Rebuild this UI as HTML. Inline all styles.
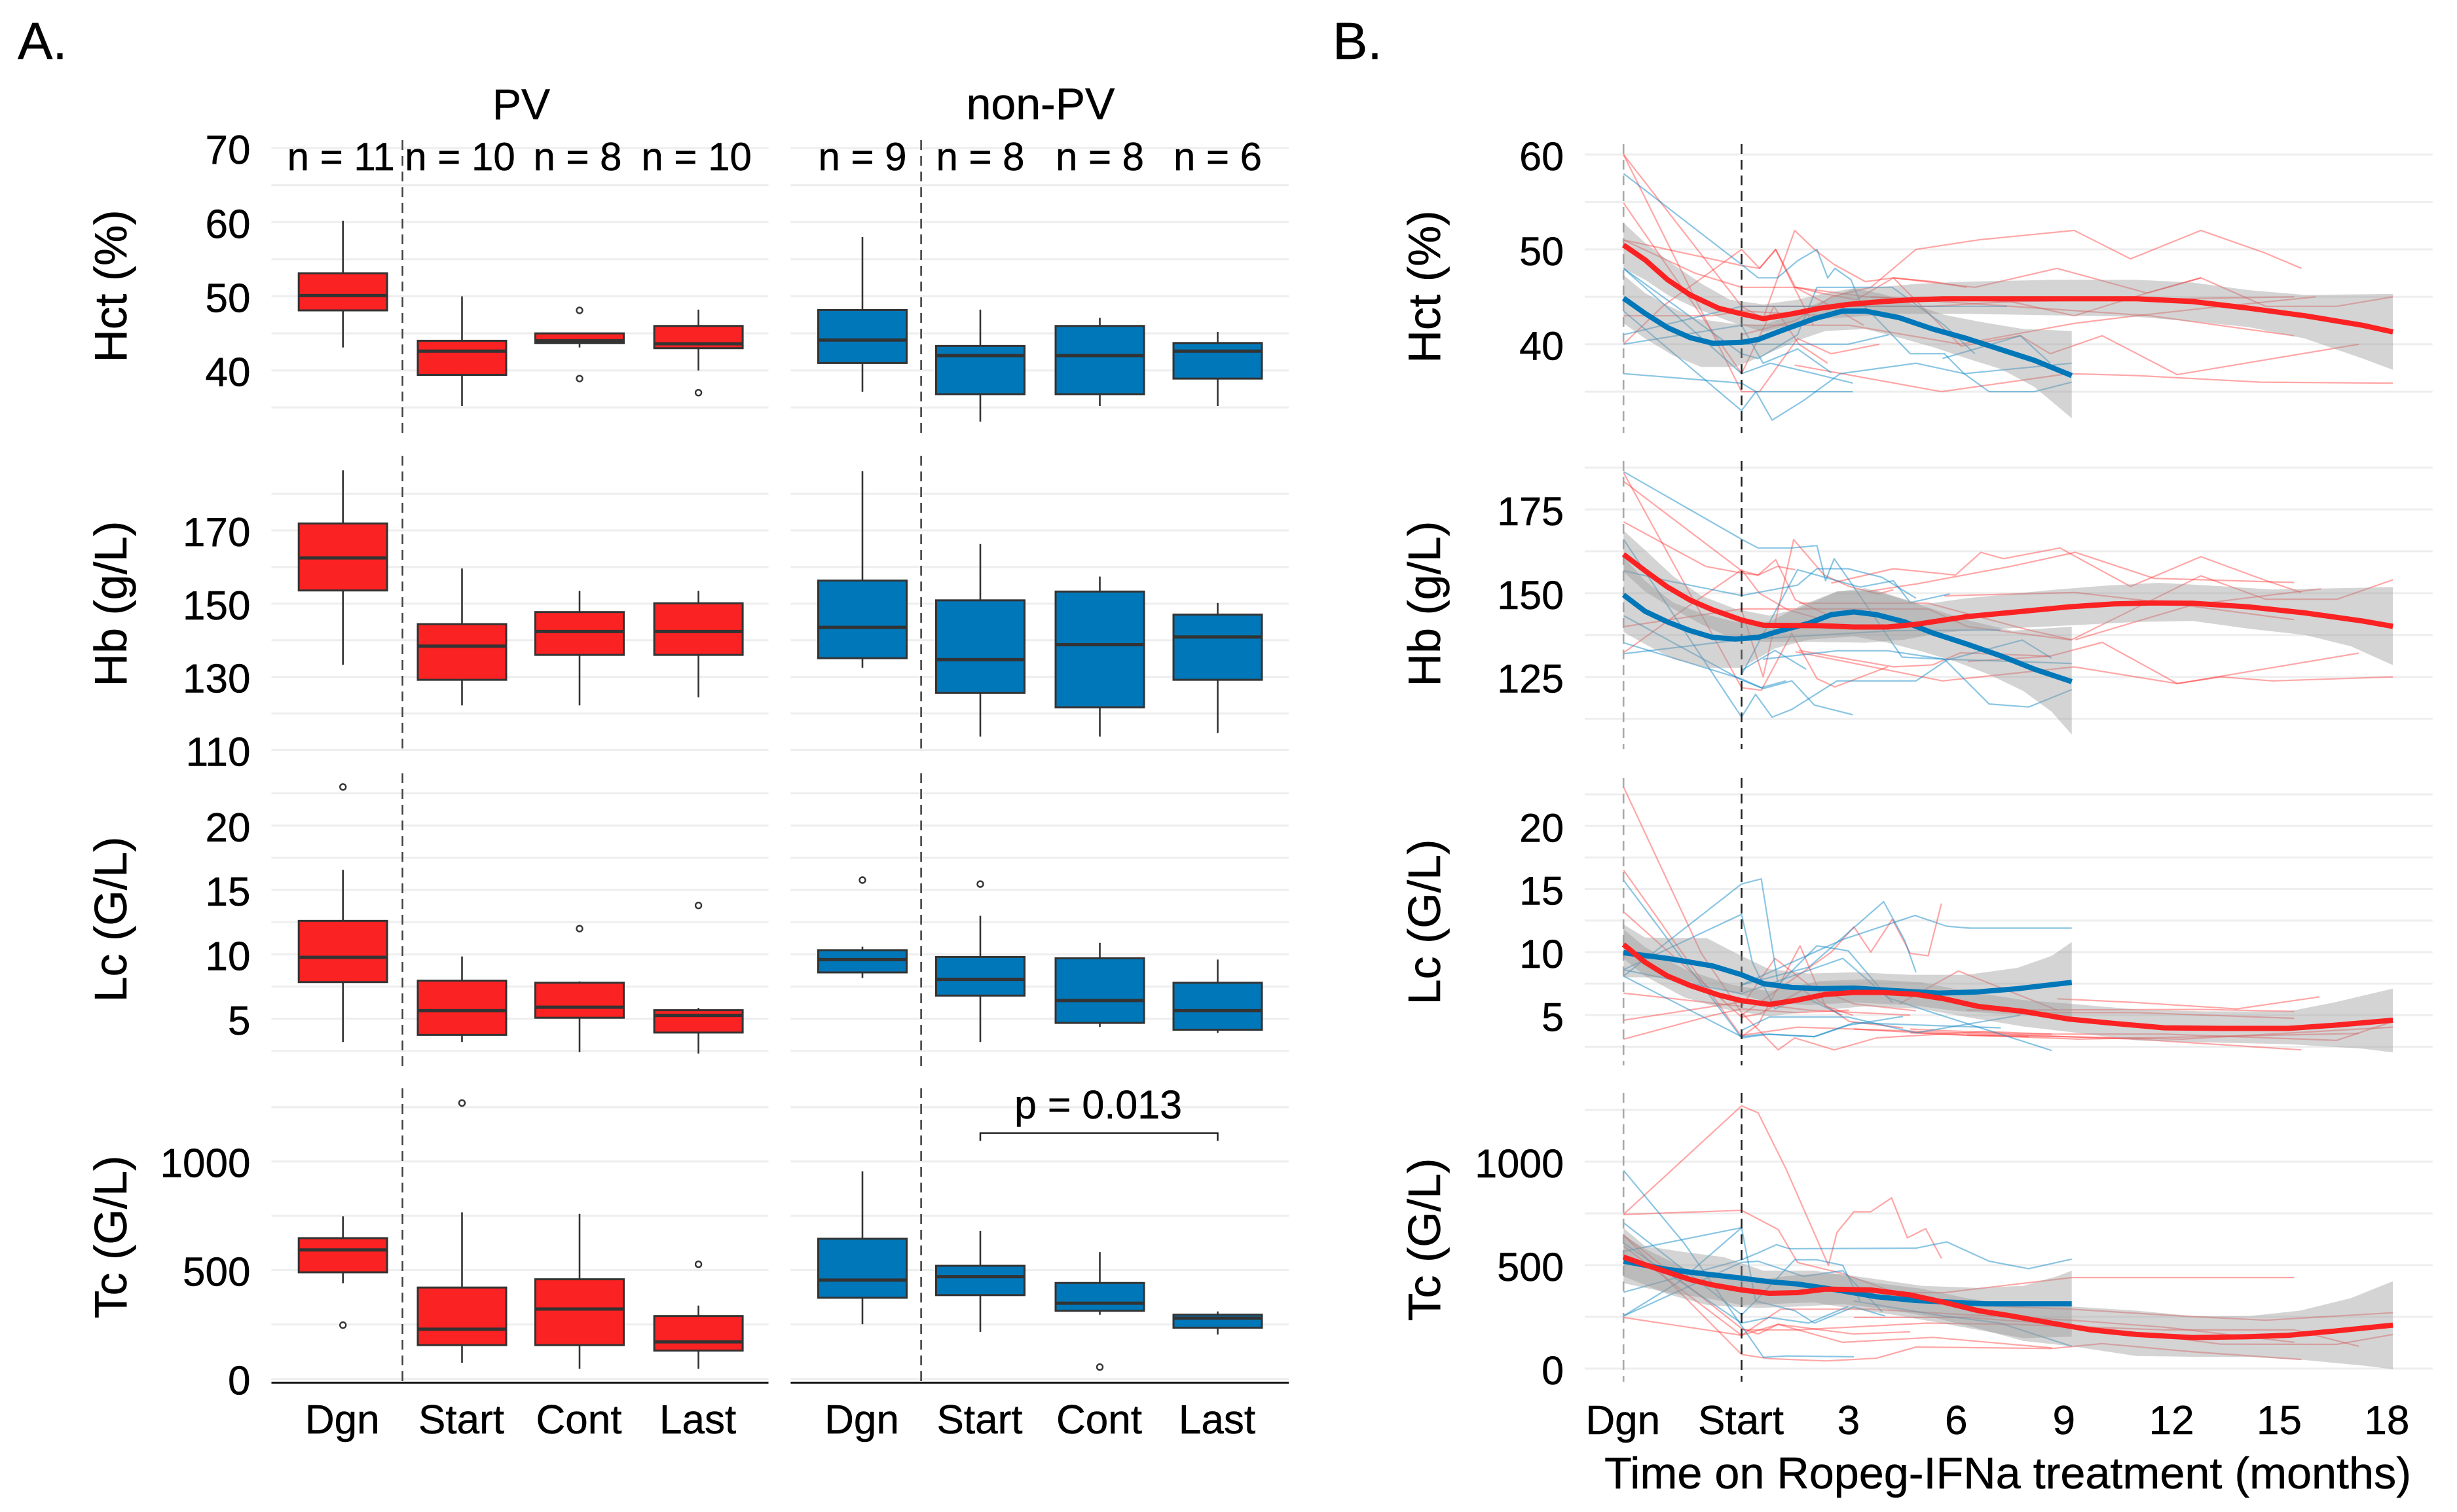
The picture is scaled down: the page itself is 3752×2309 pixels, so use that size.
<!DOCTYPE html>
<html lang="en">
<head>
<meta charset="utf-8">
<title>Hematologic parameters on Ropeg-IFNa treatment</title>
<style>
html,body{margin:0;padding:0;background:#fff;}
svg{display:block;}
text{font-family:"Liberation Sans",sans-serif;fill:#000;stroke:#000;stroke-width:.5px;}
</style>
</head>
<body>
<svg id="chart" xmlns="http://www.w3.org/2000/svg" width="3752" height="2309" viewBox="0 0 3752 2309">
  <rect x="0" y="0" width="3752" height="2309" fill="#fff"/>
  <g id="layer-a"></g>
  <g id="layer-b"></g>
  <text x="27" y="90" font-size="80">A.</text>
  <text x="2035" y="90" font-size="80">B.</text>
  <text x="796" y="182" font-size="66" text-anchor="middle">PV</text>
  <text x="1589" y="182" font-size="68" text-anchor="middle">non-PV</text>
  <text transform="translate(193,437) rotate(-90)" font-size="70" text-anchor="middle">Hct (%)</text>
  <text transform="translate(193,922) rotate(-90)" font-size="70" text-anchor="middle">Hb (g/L)</text>
  <text transform="translate(193,1404) rotate(-90)" font-size="70" text-anchor="middle">Lc (G/L)</text>
  <text transform="translate(193,1889) rotate(-90)" font-size="70" text-anchor="middle">Tc (G/L)</text>
  <text transform="translate(2199,438) rotate(-90)" font-size="70" text-anchor="middle">Hct (%)</text>
  <text transform="translate(2199,922) rotate(-90)" font-size="70" text-anchor="middle">Hb (g/L)</text>
  <text transform="translate(2199,1408) rotate(-90)" font-size="70" text-anchor="middle">Lc (G/L)</text>
  <text transform="translate(2199,1893) rotate(-90)" font-size="70" text-anchor="middle">Tc (G/L)</text>
  <text x="2450" y="2273" font-size="68" textLength="1232" lengthAdjust="spacingAndGlyphs">Time on Ropeg-IFNa treatment (months)</text>
  <text x="1677" y="1708" font-size="61" text-anchor="middle">p = 0.013</text>
  <path d="M1497 1742V1730.5H1859.5V1742" fill="none" stroke="#222" stroke-width="2.5"/>
</svg>
<script>
/* ---------- Panel A data: [low whisker, Q1, median, Q3, high whisker] ---------- */
const boxCategories = ['Dgn', 'Start', 'Cont', 'Last'];
const pvCounts = ['n = 11', 'n = 10', 'n = 8', 'n = 10'];
const nonPvCounts = ['n = 9', 'n = 8', 'n = 8', 'n = 6'];

const pvHctBoxes = [[43.1,48.1,50.1,53.1,60.2],[35.2,39.4,42.6,44,50],[43.1,43.7,44,45,45],[40,43,43.6,46,48.2]];
const pvHctOutliers = [[],[],[48.1,38.9],[37]];
const nonPvHctBoxes = [[37.1,41,44.1,48.15,58],[33.1,36.8,42,43.3,48.2],[35.2,36.8,42,46,47.1],[35.2,38.9,42.6,43.7,45.2]];
const nonPvHctOutliers = [[],[],[],[]];

const pvHbBoxes = [[133.3,153.6,162.5,171.9,186.4],[122.2,129.2,138.4,144.4,159.6],[122.2,136,142.4,147.7,153.5],[124.4,136,142.4,150.1,153.5]];
const pvHbOutliers = [[],[],[],[]];
const nonPvHbBoxes = [[132.5,135.1,143.5,156.3,186.2],[113.7,125.6,134.7,150.9,166.3],[113.7,121.7,138.8,153.3,157.4],[114.7,129.2,140.9,147,150.2]];
const nonPvHbOutliers = [[],[],[],[]];

const pvLcBoxes = [[3.2,7.85,9.77,12.6,16.56],[3.2,3.75,5.63,7.96,9.84],[2.4,5.08,5.9,7.8,7.9],[2.3,3.93,5.26,5.67,5.85]];
const pvLcOutliers = [[23],[],[12],[13.8]];
const nonPvLcBoxes = [[8.17,8.6,9.6,10.33,10.6],[3.2,6.8,8.06,9.8,13],[4.36,4.68,6.42,9.7,10.9],[3.9,4.15,5.63,7.8,9.6]];
const nonPvLcOutliers = [[15.77],[15.46],[],[]];

const pvTcBoxes = [[440,490,593,647,748],[74,155,228,420,766],[46,155,321,458,759],[46,130,170,289,337]];
const pvTcOutliers = [[247],[1269],[],[527]];
const nonPvTcBoxes = [[251,373,454,645,955],[216,385,470,520,680],[295,313,348,441,583],[204,235,279,295,310]];
const nonPvTcOutliers = [[],[],[54],[]];

/* ---------- Axis ticks ---------- */
const hctTicksA = [70,60,50,40];
const hbTicksA = [170,150,130,110];
const lcTicksA = [20,15,10,5];
const tcTicksA = [1000,500,0];
const hctGridA = [35,40,45,50,55,60,65,70];
const hbGridA = [110,120,130,140,150,160,170,180];
const lcGridA = [2.5,5,7.5,10,12.5,15,17.5,20,22.5];
const tcGridA = [0,250,500,750,1000,1250];

const hctTicksB = [60,50,40];
const hbTicksB = [175,150,125];
const lcTicksB = [20,15,10,5];
const tcTicksB = [1000,500,0];
const hctGridB = [35,40,45,50,55,60];
const hbGridB = [112.5,125,137.5,150,162.5,175,187.5];
const lcGridB = [2.5,5,7.5,10,12.5,15,17.5,20,22.5];
const tcGridB = [0,250,500,750,1000,1250];

/* ---------- Panel B: month of diagnosis on the time axis ---------- */
const D = -3.29;
const timeTickValues = [D,0,3,6,9,12,15,18];
const timeTickLabels = ['Dgn','Start','3','6','9','12','15','18'];

/* ---------- Hct series: [month, value] ---------- */
const hctRedTrend = [[D,50.46],[-2.69,48.9],[-2.06,46.8],[-1.43,45.2],[-.64,43.8],[0,43.2],[.61,42.7],[1.4,43.2],[2.19,43.8],[2.97,44.2],[3.93,44.5],[4.86,44.7],[5.65,44.8],[7.53,44.8],[11,44.8],[12.57,44.5],[14.14,43.8],[15.7,43],[17.3,42],[18.15,41.3]];
const hctBlueTrend = [[D,44.86],[-2.69,43.25],[-2.06,41.75],[-1.43,40.7],[-.8,40.1],[0,40.2],[.46,40.5],[1.09,41.4],[2.03,42.7],[2.82,43.5],[3.45,43.5],[4.39,42.8],[5.33,41.6],[6.28,40.6],[7.22,39.45],[8.16,38.3],[9.2,36.7]];
const hctRedUpper = [[D,52.8],[-2.69,50.7],[-1.9,48.4],[-1.12,46.4],[-.33,44.7],[.61,44.2],[1.56,44.7],[2.34,45.4],[3.13,45.9],[4.07,46.1],[5.02,46.4],[6.28,46.6],[8.79,46.8],[11,46.8],[12.57,46.5],[14.14,45.7],[15.7,45.2],[18.15,45.3]];
const hctRedLower = [[D,48],[-2.69,46.8],[-2.06,45.2],[-1.27,43.8],[-.33,42.4],[.61,41.3],[1.56,42.2],[2.34,42.7],[3.13,42.9],[4.39,43.2],[6.28,43.2],[9.42,43],[11,42.9],[12.57,42.4],[14.14,41.8],[15.7,40.6],[17.3,38.5],[18.15,37.3]];
const hctBlueUpper = [[D,47.3],[-2.69,45.4],[-2.06,44.1],[-1.27,42.7],[-.33,42.2],[.61,42],[1.56,43.4],[2.34,44.7],[3.13,45.9],[3.92,45.3],[4.7,44.3],[5.65,43.1],[6.59,42.4],[7.85,41.6],[9.2,41.4]];
const hctBlueLower = [[D,42.2],[-2.69,40.6],[-1.9,38.8],[-1.12,37.6],[-.17,37.6],[.61,38.8],[1.56,40.4],[2.34,41.4],[3.45,41.6],[4.39,40.7],[5.33,39.7],[6.28,38.5],[7.22,37.4],[8.16,35.5],[9.2,32.2]];
const hctRedLines = [
 [[D,60],[0,35],[.5,35],[1.56,40.6],[2.5,39],[3.84,40]],
 [[D,60],[0,44],[.6,42.7],[1.48,52],[2.03,50],[2.58,48.4],[3.45,46.6],[4.23,47],[5.33,46.6],[6.28,46]],
 [[D,54.9],[0,36.9],[.9,44],[1.6,40],[2.4,38]],
 [[D,51],[0,48.3],[.5,48],[.95,50],[1.5,46],[2.5,44],[3.4,42]],
 [[D,51],[-1.3,47.5],[0,46],[1.56,46],[2.2,45.4],[3.2,44.7],[4.23,47]],
 [[D,43],[-.8,43],[0,43.5],[2.4,43]],
 [[D,40],[-2.2,44],[0,50],[.5,48],[.95,50],[1.4,46.5],[2,42]],
 [[0,41],[1.5,42.5],[2.5,45],[3.6,46],[4.86,50],[6.59,51],[9.27,52],[10.84,49],[12.8,52],[14.6,49.6],[15.6,48]],
 [[4.23,47],[6.5,46],[8.79,48],[11.3,45.4],[12.8,47],[14.6,44],[16.58,44],[18.15,45]],
 [[1.48,37.8],[5.57,35],[9.1,36.9],[11,36.7],[14.46,36],[18.15,35.9]],
 [[4.23,47],[6.12,39.8],[7.77,40.9],[8.6,39],[10.05,40.9],[12.14,36.8],[17.2,40]],
 [[0,44],[5.33,44],[7.5,44.5],[9.27,43],[11.3,45.4],[12.8,47]],
 [[0,42],[3,42],[6.1,40],[9.27,42.2],[11,43],[12.9,43.8],[16,45]],
 [[3.6,45],[11.4,43],[15.4,40.9]],
 [[1.5,46],[3.5,45],[7.5,44.5],[15.4,45]]
];
const hctBlueLines = [
 [[D,58],[0,48.4],[.46,47],[1,47],[1.56,48.8],[2.1,50],[2.4,47],[2.6,48],[3.05,46.8],[3.3,44.5],[4.7,39],[5.65,39],[6.2,36.9],[6.9,35],[8.16,35],[9.2,36]],
 [[D,48],[0,36.9],[.8,38],[2.03,36.9],[3.1,35.9]],
 [[D,36.9],[0,35.9],[.4,35],[.85,32],[1.7,34],[2.75,36.9],[4.86,38],[6.2,36.9],[9.2,38]],
 [[D,41],[0,44],[5.33,44],[7.4,44]],
 [[D,40],[0,42],[.6,38],[1.56,39.5],[2.5,37]],
 [[D,43.5],[0,33],[.4,35],[3.1,35]],
 [[D,48],[0,39],[.46,38.5],[1.56,41],[2.1,46],[3.1,46],[4.2,46],[5.65,42],[6.5,39]],
 [[0,40],[.8,40],[2.97,40],[4.1,41]],
 [[5.6,38.5],[7.77,40.9],[8.6,38]]
];

/* ---------- Hb series ---------- */
const hbRedTrend = [[D,161.6],[-2.69,156.7],[-2.06,151.8],[-1.43,147.9],[-.8,145],[0,142],[.61,140.4],[2.19,140.3],[3.13,139.9],[4.07,139.9],[4.86,140.7],[6.28,143],[7.85,144.6],[9.1,145.9],[10.37,146.8],[11.47,147.1],[12.57,147],[14.14,145.9],[15.7,144.1],[17.3,141.7],[18.15,140.1]];
const hbBlueTrend = [[D,149.5],[-2.69,144.6],[-2.06,141.4],[-1.43,138.8],[-.8,136.8],[-.17,136.3],[.46,136.8],[1.09,138.8],[1.87,141],[2.5,143.6],[3.13,144.4],[3.76,143.6],[4.55,141.4],[5.33,138.1],[6.28,134.8],[7.22,131.3],[8.16,127.3],[9.2,123.6]];
const hbRedUpper = [[D,168.7],[-2.69,162.9],[-1.9,155],[-1.12,149.2],[-.17,145.3],[.77,143.3],[1.56,145.3],[2.66,150.5],[3.76,150.8],[5.02,146.6],[6.28,148.5],[7.53,149.8],[8.79,151.1],[10.21,152.3],[11.62,153.1],[12.88,152.4],[14.77,151.1],[18.15,151.8]];
const hbRedLower = [[D,156.4],[-2.69,150.5],[-1.9,145.3],[-1.12,140.7],[-.33,136.8],[.61,135.5],[1.87,135.5],[3.45,135.2],[4.55,136.1],[5.49,138.1],[6.59,139.1],[7.85,139.7],[9.2,140.4],[11,141.4],[12.57,141.7],[14.14,139.4],[15.7,137.5],[16.97,134.2],[18.15,128.5]];
const hbBlueUpper = [[D,160.9],[-2.69,153.7],[-1.9,147.2],[-1.12,144],[-.17,141.4],[.77,141.4],[1.71,146.6],[2.66,150.5],[3.45,151.5],[4.39,148.5],[5.33,145.3],[6.28,142],[7.53,138.8],[9.2,140]];
const hbBlueLower = [[D,138.4],[-2.69,134.8],[-1.9,130.3],[-.96,127.7],[0,127.7],[.93,133.5],[1.87,136.1],[3.13,137.1],[4.07,135.2],[5.02,132.6],[5.96,129.6],[6.9,125.7],[7.85,120.8],[8.64,114.6],[9.2,107.8]];
const hbRedLines = [
 [[D,186],[0,121.8],[.55,121],[1.4,138],[2.1,124.5],[2.6,122],[4.07,128]],
 [[D,183.4],[0,156.7],[.46,155.4],[.95,160],[1.5,148],[2.5,143]],
 [[D,171.3],[-1,158],[0,156],[.46,155.4],[1,158],[1.5,157]],
 [[0,145],[.6,125],[1.45,166],[2.3,155.4],[3,152],[3.8,149.8],[4.23,151]],
 [[D,140],[0,145.3],[5.2,145.3],[6.3,140],[9.2,136]],
 [[D,132.2],[-1.5,146],[0,157],[.5,150],[1.3,145],[2.3,142]],
 [[2.5,153],[4.23,157.3],[5.96,155.4],[6.67,162.2],[7.3,160.3],[8.87,163.5],[10.84,152],[12.8,160.9],[14.6,153.8],[15.6,150.2]],
 [[3.5,150.5],[4.9,152.8],[7.5,158],[9.3,162.2],[11.5,154.4],[15.4,153.2]],
 [[5.65,149.2],[9.3,150.2],[12.2,146.6],[15.4,142.1]],
 [[1.6,147],[5.2,147],[8,139],[9.2,136.1],[12.8,155.2],[14.6,148.2],[16.6,148.2],[18.15,154]],
 [[1.5,132.5],[5.6,123.8],[9.27,128],[12.14,123],[17.2,132.1]],
 [[6.3,129.6],[8.6,131.2],[10.05,135.3],[12.14,123],[13.35,125],[14.8,123.8],[18.15,125]],
 [[9.3,136.1],[12.6,146.6],[16.15,151.3]],
 [[1.6,132.9],[4.23,128],[5.33,128.6],[6.1,132.2],[8.6,131.2]]
];
const hbBlueLines = [
 [[D,186.3],[0,166.1],[.46,163.5],[1.4,163.5],[2.1,164.2],[2.34,153.7],[2.58,160.3],[3.13,151.8],[4.47,130.9],[5.65,130.3],[6.9,116.9],[8,116],[9.2,121.2]],
 [[D,166.1],[0,113],[.39,119.8],[.85,113],[1.4,115.3],[2.66,123.8],[4.86,123.8],[5.72,130],[7.82,136],[8.64,130.6]],
 [[D,156.7],[-2.06,153.7],[0,149.3],[1.56,152.4],[2.1,157.3],[2.97,157.3],[3.92,154.7],[4.86,148.5]],
 [[D,143.3],[0,124.1],[.6,121.5],[1.4,123.8],[2.03,116.6],[3.1,113.7]],
 [[D,135.2],[0,124.4],[.55,121.8],[1.24,123.8]],
 [[D,131.9],[0,136.1],[4.23,138.8],[7.22,139]],
 [[0,127],[.93,132.9],[1.8,127.3]],
 [[.6,130.3],[2.66,132.8],[4.07,132.8],[5.65,130.3],[9.2,129]],
 [[0,125.7],[1.56,157],[3.3,151.8],[4.23,153.7],[4.7,147.2],[5.8,149.8]]
];

/* ---------- Lc series ---------- */
const lcRedTrend = [[D,10.6],[-2.69,9.2],[-2.06,8.1],[-1.43,7.35],[-.64,6.6],[0,6.15],[.77,5.85],[1.56,6.2],[2.34,6.65],[3.13,6.8],[3.92,6.8],[4.86,6.65],[5.65,6.3],[6.59,5.7],[7.85,5.3],[9.1,4.7],[10.37,4.35],[11.78,4],[13.36,3.95],[15.24,3.95],[16.5,4.2],[18.15,4.6]];
const lcBlueTrend = [[D,9.95],[-2.06,9.5],[-.8,8.9],[0,8.2],[.61,7.5],[1.4,7.2],[2.19,7.1],[3.13,7.15],[4.23,6.95],[5.49,6.75],[6.59,6.85],[7.69,7.1],[9.2,7.6]];
const lcRedUpper = [[D,11.8],[-2.69,10.4],[-1.59,8.65],[-.33,7.45],[.77,6.9],[2.19,7.7],[3.45,7.85],[5.02,7.6],[6.28,6.9],[7.85,6.2],[9.2,5.9],[11,5.45],[12.88,5.3],[15.24,5.3],[16.5,6],[18.15,7.1]];
const lcRedLower = [[D,9.5],[-2.69,8.1],[-1.59,6.4],[-.49,5.5],[.77,4.9],[1.87,5.3],[3.45,5.7],[5.02,5.5],[6.28,4.85],[7.85,4.1],[9.2,3.65],[11,3],[12.88,2.85],[15.24,2.7],[17.29,2.35],[18.15,2.05]];
const lcBlueUpper = [[D,12.2],[-2.69,11.15],[-.96,11.1],[-.49,10.4],[0,9.7],[.77,8.65],[1.87,8.3],[3.13,8.4],[4.7,8.2],[6.28,8.2],[7.69,8.75],[8.64,9.7],[9.2,10.8]];
const lcBlueLower = [[D,8],[-2.06,8],[-.8,7.25],[0,6.6],[.77,6],[1.87,5.8],[3.13,6],[4.7,5.8],[5.96,5.35],[7.22,5.1],[8.32,4.95],[9.2,4.85]];
const lcRedLines = [
 [[D,23.1],[-1.12,9.9],[0,5.2],[1.02,2.25],[1.48,3.2],[2.58,2.25],[3.76,3.2],[6.75,3.7],[8.64,3.5]],
 [[D,16.5],[0,3.3],[.46,4.25],[1.63,10.5],[2.34,5.7],[3.1,5]],
 [[D,13.2],[0,4.85],[.5,5.1],[1.7,7],[3,4.5],[4.5,4]],
 [[D,6.75],[0,5.7],[.93,9.5],[1.87,7.4],[3.13,5.9],[4.86,5.35]],
 [[D,4.6],[0,6.05],[1.87,5.4],[4.7,5]],
 [[D,3.1],[-.8,5],[0,5.5],[1.5,5.2],[3,5.4]],
 [[0,5],[1.5,8],[2.5,10],[3.13,12],[3.6,10],[4.2,12.6],[4.7,9.9],[5.2,9.7],[5.57,13.85]],
 [[0,3.4],[1.56,4.05],[3.13,3.9],[6.28,3.4],[8,3.3]],
 [[4.4,5.9],[6.04,8.5],[8.8,5.4]],
 [[8.8,6.3],[11,6],[13.8,5.5],[16.1,6.45]],
 [[6.28,5.4],[12.88,5.45],[15.4,5.3]],
 [[7.85,5.2],[11,5.2],[15.4,4.75]],
 [[3.13,3.9],[11,3.1],[15.6,2.25]],
 [[4.7,3.9],[7.85,3.5],[11.8,3.5],[16.58,3],[18.15,4.5]],
 [[6.28,3.45],[12.26,3.1],[18.15,4.05]],
 [[4.7,3.6],[9.4,3.1],[17.2,3.55]]
];
const lcBlueLines = [
 [[D,15.7],[0,3.2],[.77,3.5],[2.03,3.3],[3.13,4.4],[7.22,4]],
 [[D,8.6],[0,13],[.3,9.2],[.93,5.5],[1.7,6.5],[2.8,5]],
 [[D,8.1],[0,15.4],[.55,15.8],[1.02,7.4],[2.1,10.5],[2.97,10.1],[3.6,8],[4.2,6]],
 [[0,7.4],[1.87,8.8],[3.96,14],[4.55,10.9],[4.86,8.4]],
 [[0,7.4],[2.82,11],[4.83,12.9],[5.72,12.05],[6.36,11.9],[9.2,11.9]],
 [[D,8.6],[0,6.7],[2.82,9.5],[4.07,6.4],[5,5.5],[8.64,2.2]],
 [[0,3.8],[.77,4.85],[2.97,4.85],[4.86,3.6],[7.77,5]],
 [[D,8.1],[0,3.3],[.6,3.5],[2.03,3.3],[2.97,4.2],[4.5,4.9]]
];

/* ---------- Tc series ---------- */
const tcRedTrend = [[D,539],[-2.69,502],[-2.06,466],[-1.43,430],[-.8,404],[0,380],[.77,364],[1.56,367],[2.34,384],[3.6,380],[4.7,356],[5.65,320],[6.59,280],[7.53,254],[8.63,220],[9.74,187],[11,165],[12.57,150],[14.14,154],[15.24,161],[16.5,181],[18.15,210]];
const tcBlueTrend = [[D,519],[-2.06,479],[-.8,453],[0,437],[.77,420],[1.56,409],[2.66,380],[3.76,347],[4.86,329],[5.96,320],[6.75,313],[9.2,313]];
const tcRedUpper = [[D,645],[-2.69,579],[-1.59,486],[-.49,433],[.61,433],[1.56,453],[2.66,459],[3.76,413],[5.02,386],[6.28,340],[7.85,300],[9.2,300],[11,280],[12.57,254],[14.14,254],[15.56,280],[16.97,340],[18.15,422]];
const tcRedLower = [[D,446],[-2.06,360],[-.96,307],[.46,293],[1.56,300],[2.82,311],[4.07,287],[5.33,247],[6.59,194],[7.85,134],[9.2,108],[11,61],[12.57,57],[14.14,57],[15.7,41],[17.29,15],[18.15,-3]];
const tcBlueUpper = [[D,679],[-2.69,592],[-1.59,563],[-.49,539],[.61,473],[2.03,473],[3.45,440],[5.02,400],[6.59,390],[7.85,400],[8.79,446],[9.2,473]];
const tcBlueLower = [[D,413],[-2.06,367],[-.96,340],[0,307],[.93,313],[2.03,320],[3.13,287],[4.23,260],[5.33,227],[6.59,187],[7.85,147],[9.2,154]];
const tcRedLines = [
 [[D,745],[0,1270],[.46,1236],[1.24,964],[2.42,499],[2.66,659],[3.13,758],[3.6,758],[4.18,825],[4.62,632],[5.13,676],[5.57,533]],
 [[D,745],[0,765],[1.02,672],[1.56,513],[2.82,459],[4.07,380]],
 [[D,247],[0,161],[1.02,214],[3.13,167],[4.7,178]],
 [[D,645],[0,68],[.77,48],[2.34,37],[3.76,50],[4.86,104],[8.64,97],[10.05,121],[12.57,81],[15.6,44]],
 [[D,645],[0,194],[.46,167],[1.02,214],[2.82,127],[5.33,151],[8.64,100]],
 [[D,592],[0,161],[1.09,287],[3.6,287],[6.28,260],[9.2,234],[11.8,200],[15.4,127]],
 [[0,187],[1.56,187],[5.18,220],[7.53,214],[11.78,187],[13.5,187],[15.4,187],[17.2,108]],
 [[3.13,247],[6.28,247],[9.42,207],[13.36,118],[16.58,117],[18.15,165]],
 [[3.13,367],[5.65,367],[9.2,440],[15.4,440]],
 [[5.49,313],[9.2,287],[12.25,254],[14.6,234],[18.15,270]]
];
const tcBlueLines = [
 [[D,958],[-1.6,606],[0,207],[.61,54],[1.24,61],[3.13,57]],
 [[D,705],[0,260],[.39,327],[1.48,280],[2.03,220],[3.13,298],[4,254]],
 [[D,369],[0,526],[.46,559],[.97,599],[1.33,579],[4.86,582],[5.72,612],[6.9,519],[8,483],[9.2,529]],
 [[D,254],[-1.74,420],[0,681],[.39,327],[1.48,526],[2.1,526],[2.82,499],[3.3,327]],
 [[D,566],[0,681]],
 [[D,254],[0,513],[.46,519],[1.72,446],[2.82,473],[3.92,274]],
 [[D,606],[0,220],[.77,247],[1.87,220],[2.97,300]],
 [[3.13,327],[5.4,260],[7.2,220],[9.2,108]]
];

/* ---------- Drawing ---------- */
const NS = 'http://www.w3.org/2000/svg';
const RED = '#fa2222';
const BLUE = '#0077b8';
const GRID = '#eeeeee';
const layerA = document.getElementById('layer-a');
const layerB = document.getElementById('layer-b');

function make(parent, tag, props, text) {
  const el = document.createElementNS(NS, tag);
  Object.keys(props).forEach(function (k) { el.setAttribute(k, props[k]); });
  if (text !== undefined) el.textContent = text;
  parent.appendChild(el);
  return el;
}
function linear(v0, y0, v1, y1) {
  return function (v) { return y0 + (v - v0) * (y1 - y0) / (v1 - v0); };
}

const pvBandCenters = [523.7, 705.5, 885, 1066.6];
const nonPvBandCenters = [1317, 1497, 1679.5, 1859.5];
const boxHalf = 67.5;

function drawBoxPanel(group, key, yScale, centers, boxes, outliers, gridVals, x0, x1, dashX, dashTop, dashBottom, fill) {
  gridVals.forEach(function (g) {
    const line = make(group, 'line', {x1: x0, x2: x1, y1: yScale(g), y2: yScale(g), stroke: GRID, 'stroke-width': 3});
    
    
  });
  boxes.forEach(function (b, i) {
    const cx = centers[i];
    const whisker = make(group, 'line', {x1: cx, x2: cx, y1: yScale(b[4]), y2: yScale(b[0]), stroke: '#333', 'stroke-width': 2.6});
    
    
    const rect = make(group, 'rect', {x: cx - boxHalf, width: boxHalf * 2, y: yScale(b[3]), height: yScale(b[1]) - yScale(b[3]), fill: fill, stroke: '#333', 'stroke-width': 3});
    
    
    const med = make(group, 'line', {x1: cx - boxHalf, x2: cx + boxHalf, y1: yScale(b[2]), y2: yScale(b[2]), stroke: '#333', 'stroke-width': 5});
    
    
    outliers[i].forEach(function (o) {
      const dot = make(group, 'circle', {cx: cx, cy: yScale(o), r: 4.5, fill: '#fff', stroke: '#333', 'stroke-width': 2.4});
      
      
    });
  });
  const dash = make(group, 'line', {x1: dashX, x2: dashX, y1: dashTop, y2: dashBottom, stroke: '#444', 'stroke-width': 2.6, 'stroke-dasharray': '15 9'});
  
  
}

function drawTicks(group, key, yScale, ticks, xRight, size) {
  ticks.forEach(function (t) {
    const label = make(group, 'text', {x: xRight, y: yScale(t) + 24, 'font-size': size, 'text-anchor': 'end'}, String(t));
    
    
  });
}

const rowsA = [
  {key: 'hct', y: linear(40, 565.7, 60, 339.3), grid: hctGridA, ticks: hctTicksA, pv: pvHctBoxes, pvO: pvHctOutliers, np: nonPvHctBoxes, npO: nonPvHctOutliers, top: 214, bottom: 664},
  {key: 'hb', y: linear(110, 1145.5, 170, 810), grid: hbGridA, ticks: hbTicksA, pv: pvHbBoxes, pvO: pvHbOutliers, np: nonPvHbBoxes, npO: nonPvHbOutliers, top: 696, bottom: 1146},
  {key: 'lc', y: linear(5, 1555.8, 20, 1260.8), grid: lcGridA, ticks: lcTicksA, pv: pvLcBoxes, pvO: pvLcOutliers, np: nonPvLcBoxes, npO: nonPvLcOutliers, top: 1181, bottom: 1628},
  {key: 'tc', y: linear(0, 2105.6, 1000, 1773.7), grid: tcGridA, ticks: tcTicksA, pv: pvTcBoxes, pvO: pvTcOutliers, np: nonPvTcBoxes, npO: nonPvTcOutliers, top: 1662, bottom: 2111.5}
];
rowsA.forEach(function (r) {
  drawBoxPanel(layerA, 'pv-' + r.key, r.y, pvBandCenters, r.pv, r.pvO, r.grid, 414.5, 1173.5, 614.6, r.top, r.bottom, RED);
  drawBoxPanel(layerA, 'non-pv-' + r.key, r.y, nonPvBandCenters, r.np, r.npO, r.grid, 1207.4, 1968, 1406.6, r.top, r.bottom, BLUE);
  drawTicks(layerA, 'a-' + r.key, r.y, r.ticks, 382.5, 62);
});

[[414.5, 1173.5, 'pv'], [1207.4, 1968, 'non-pv']].forEach(function (a) {
  const axis = make(layerA, 'line', {x1: a[0], x2: a[1], y1: 2111.5, y2: 2111.5, stroke: '#111', 'stroke-width': 3});
  
  
});
boxCategories.forEach(function (c, i) {
  const a = make(layerA, 'text', {x: pvBandCenters[i] - 1, y: 2189, 'font-size': 62, 'text-anchor': 'middle'}, c);
  
  
  const b = make(layerA, 'text', {x: nonPvBandCenters[i] - 1, y: 2189, 'font-size': 62, 'text-anchor': 'middle'}, c);
  
  
  const n1 = make(layerA, 'text', {x: pvBandCenters[i] - 3, y: 260, 'font-size': 60, 'text-anchor': 'middle'}, pvCounts[i]);
  
  
  const n2 = make(layerA, 'text', {x: nonPvBandCenters[i], y: 260, 'font-size': 60, 'text-anchor': 'middle'}, nonPvCounts[i]);
  
  
});

/* Panel B */
const xB = linear(0, 2659.5, 18, 3645.9);
function pathOf(points, y) {
  return points.map(function (p, i) { return (i ? 'L' : 'M') + xB(p[0]).toFixed(1) + ' ' + y(p[1]).toFixed(1); }).join('');
}
function drawLines(group, name, lines, y, color, opacity) {
  lines.forEach(function (pts) {
    const l = make(group, 'path', {d: pathOf(pts, y), fill: 'none', stroke: color, 'stroke-width': 2.2, 'stroke-opacity': opacity, 'stroke-linejoin': 'round'});
    
    
  });
}
function drawRibbon(group, name, upper, lower, y) {
  const rev = lower.slice().reverse();
  const d = pathOf(upper.concat(rev), y) + 'Z';
  const rib = make(group, 'path', {d: d, fill: '#999', 'fill-opacity': 0.42, stroke: 'none'});
  
  
}
function drawTrend(group, name, pts, y, color) {
  const t = make(group, 'path', {d: pathOf(pts, y), fill: 'none', stroke: color, 'stroke-width': 8, 'stroke-linejoin': 'round'});
  
  
}

const rowsB = [
  {key: 'hct', y: linear(40, 525.7, 60, 236), grid: hctGridB, ticks: hctTicksB, top: 220, bottom: 661, redT: hctRedTrend, blueT: hctBlueTrend, rU: hctRedUpper, rL: hctRedLower, bU: hctBlueUpper, bL: hctBlueLower, rLines: hctRedLines, bLines: hctBlueLines},
  {key: 'hb', y: linear(125, 1033.7, 175, 778), grid: hbGridB, ticks: hbTicksB, top: 704, bottom: 1144, redT: hbRedTrend, blueT: hbBlueTrend, rU: hbRedUpper, rL: hbRedLower, bU: hbBlueUpper, bL: hbBlueLower, rLines: hbRedLines, bLines: hbBlueLines},
  {key: 'lc', y: linear(5, 1550.3, 20, 1261.3), grid: lcGridB, ticks: lcTicksB, top: 1188, bottom: 1627, redT: lcRedTrend, blueT: lcBlueTrend, rU: lcRedUpper, rL: lcRedLower, bU: lcBlueUpper, bL: lcBlueLower, rLines: lcRedLines, bLines: lcBlueLines},
  {key: 'tc', y: linear(0, 2090, 1000, 1774), grid: tcGridB, ticks: tcTicksB, top: 1669, bottom: 2110, redT: tcRedTrend, blueT: tcBlueTrend, rU: tcRedUpper, rL: tcRedLower, bU: tcBlueUpper, bL: tcBlueLower, rLines: tcRedLines, bLines: tcBlueLines}
];
rowsB.forEach(function (r) {
  r.grid.forEach(function (g) {
    const line = make(layerB, 'line', {x1: 2420, x2: 3714.7, y1: r.y(g), y2: r.y(g), stroke: GRID, 'stroke-width': 3});
    
    
  });
  drawTicks(layerB, 'b-' + r.key, r.y, r.ticks, 2388, 61);
  drawLines(layerB, 'b-' + r.key + '-patient-line-pv', r.rLines, r.y, '#ff2a2a', 0.42);
  drawLines(layerB, 'b-' + r.key + '-patient-line-non-pv', r.bLines, r.y, '#0a86c4', 0.48);
  const d0 = make(layerB, 'line', {x1: xB(D), x2: xB(D), y1: r.top, y2: r.bottom, stroke: '#a8a8a8', 'stroke-width': 2.6, 'stroke-dasharray': '15 9'});
  
  
  const d1 = make(layerB, 'line', {x1: xB(0), x2: xB(0), y1: r.top, y2: r.bottom, stroke: '#222', 'stroke-width': 2.6, 'stroke-dasharray': '15 9'});
  
  
  drawRibbon(layerB, 'b-' + r.key + '-ci-ribbon-pv', r.rU, r.rL, r.y);
  drawRibbon(layerB, 'b-' + r.key + '-ci-ribbon-non-pv', r.bU, r.bL, r.y);
  drawTrend(layerB, 'b-' + r.key + '-trend-non-pv', r.blueT, r.y, BLUE);
  drawTrend(layerB, 'b-' + r.key + '-trend-pv', r.redT, r.y, RED);
});
timeTickValues.forEach(function (m, i) {
  const t = make(layerB, 'text', {x: xB(m) - 1, y: 2190, 'font-size': 62, 'text-anchor': 'middle'}, timeTickLabels[i]);
  
  
});
</script>
</body>
</html>
